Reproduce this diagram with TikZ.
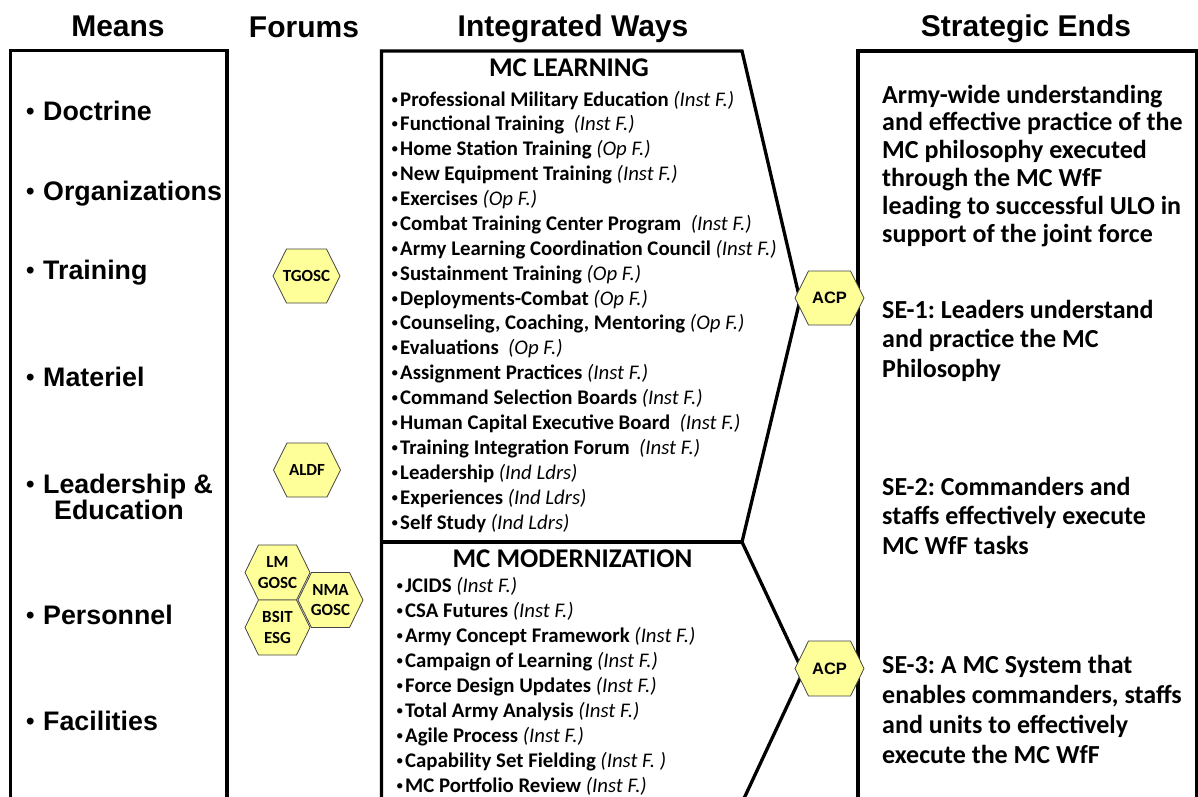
\documentclass[tikz,border=0pt]{standalone}
\usepackage{fontspec}
\setmainfont{Carlito}
\newfontfamily\arialf{Liberation Sans}
\definecolor{hexyellow}{RGB}{255,255,153}
\definecolor{hexline}{RGB}{70,70,70}
\frenchspacing
\newcommand\bul{\makebox[9pt][l]{\raisebox{2pt}{\fontsize{15}{15}\selectfont\textbullet}}}
\newcommand\mbul{\makebox[17pt][l]{\raisebox{0.9pt}{\fontsize{24}{24}\selectfont\textbullet}}}
\newcommand\wb[2]{\bul\textbf{#1} \textit{#2}}
\newcommand\hexa[7][hexlbl]{%
  \path[hexshape] ({#3-#5/2},#4) -- ({#3-#5/2+13.5},{#4-#6/2}) -- ({#3+#5/2-13.5},{#4-#6/2}) -- ({#3+#5/2},#4) -- ({#3+#5/2-13.5},{#4+#6/2}) -- ({#3-#5/2+13.5},{#4+#6/2}) -- cycle;
  \node[#1] (#2) at (#3,#4) {#7};}
\tikzset{
  box/.style={line width=3.3pt, line join=miter},
  hdr/.style={font=\arialf\bfseries\fontsize{30}{36}\selectfont, anchor=base, inner sep=0pt},
  mean/.style={font=\arialf\bfseries\fontsize{26.8}{30}\selectfont, anchor=base west, inner sep=0pt},
  way/.style={font=\fontsize{20.8}{25}\selectfont, anchor=base west, inner sep=0pt},
  wayhdr/.style={font=\bfseries\fontsize{27}{30}\selectfont, anchor=base, inner sep=0pt},
  endtxt/.style={font=\bfseries\fontsize{26}{30}\selectfont, anchor=base west, inner sep=0pt},
  hexshape/.style={fill=hexyellow, draw=hexline, line width=0.8pt, line join=miter},
  hexlbl/.style={font=\bfseries\fontsize{17}{20.5}\selectfont, align=center, inner sep=0pt},
  acplbl/.style={font=\arialf\bfseries\fontsize{16.5}{20}\selectfont, inner sep=0pt},
}
\begin{document}
\begin{tikzpicture}[x=1pt,y=-1pt]
\useasboundingbox (0,0) rectangle (1198,796);
\clip (0,0) rectangle (1198,796);
\fill[white] (0,0) rectangle (1198,796);

% headers
\node[hdr] (hMeans) at (118,36) {Means};
\node[hdr] (hForums) at (304,37) {Forums};
\node[hdr] (hWays) at (573,36) {Integrated Ways};
\node[hdr] (hEnds) at (1026,36) {Strategic Ends};

% boxes
\draw[box] (10.5,830) -- (10.5,50.5) -- (227,50.5) -- (227,830);
\draw[box] (381.5,830) -- (381.5,51) -- (742,51) -- (800,300) -- (742,542) -- (803,672) -- (733,822);
\draw[box] (381.5,542) -- (742,542);
\draw[box] (858,830) -- (858,51) -- (1197,51) -- (1197,830);

% means
\node[mean] (m1) at (26,120) {\mbul Doctrine};
\node[mean] (m2) at (26,200) {\mbul Organizations};
\node[mean] (m3) at (26,279) {\mbul Training};
\node[mean] (m4) at (26,386) {\mbul Materiel};
\node[mean] (m5) at (26,493) {\mbul Leadership \&};
\node[mean] (m5b) at (54,519) {Education};
\node[mean] (m6) at (26,624) {\mbul Personnel};
\node[mean] (m7) at (26,730) {\mbul Facilities};

% ways - learning
\node[wayhdr] (lh) at (569,76) {MC LEARNING};
\node[way] (l1) at (391,106) {\wb{Professional Military Education}{(Inst F.)}};
\node[way] (l2) at (391,130.9) {\wb{Functional Training}{\ (Inst F.)}};
\node[way] (l3) at (391,155.8) {\wb{Home Station Training}{(Op F.)}};
\node[way] (l4) at (391,180.6) {\wb{New Equipment Training}{(Inst F.)}};
\node[way] (l5) at (391,205.5) {\wb{Exercises}{(Op F.)}};
\node[way] (l6) at (391,230.4) {\wb{Combat Training Center Program}{\ (Inst F.)}};
\node[way] (l7) at (391,255.3) {\wb{Army Learning Coordination Council}{(Inst F.)}};
\node[way] (l8) at (391,280.2) {\wb{Sustainment Training}{(Op F.)}};
\node[way] (l9) at (391,305) {\wb{Deployments-Combat}{(Op F.)}};
\node[way] (l10) at (391,329.9) {\wb{Counseling, Coaching, Mentoring}{(Op F.)}};
\node[way] (l11) at (391,354.8) {\wb{Evaluations}{\ (Op F.)}};
\node[way] (l12) at (391,379.7) {\wb{Assignment Practices}{(Inst F.)}};
\node[way] (l13) at (391,404.6) {\wb{Command Selection Boards}{(Inst F.)}};
\node[way] (l14) at (391,429.4) {\wb{Human Capital Executive Board}{\ (Inst F.)}};
\node[way] (l15) at (391,454.3) {\wb{Training Integration Forum}{\ (Inst F.)}};
\node[way] (l16) at (391,479.2) {\wb{Leadership}{(Ind Ldrs)}};
\node[way] (l17) at (391,504.1) {\wb{Experiences}{(Ind Ldrs)}};
\node[way] (l18) at (391,529) {\wb{Self Study}{(Ind Ldrs)}};

% ways - modernization
\node[wayhdr] (mh) at (572.5,567) {MC MODERNIZATION};
\node[way] (w1) at (396,592) {\wb{JCIDS}{(Inst F.)}};
\node[way] (w2) at (396,617) {\wb{CSA Futures}{(Inst F.)}};
\node[way] (w3) at (396,642) {\wb{Army Concept Framework}{(Inst F.)}};
\node[way] (w4) at (396,667) {\wb{Campaign of Learning}{(Inst F.)}};
\node[way] (w5) at (396,692) {\wb{Force Design Updates}{(Inst F.)}};
\node[way] (w6) at (396,717) {\wb{Total Army Analysis}{(Inst F.)}};
\node[way] (w7) at (396,742) {\wb{Agile Process}{(Inst F.)}};
\node[way] (w8) at (396,767) {\wb{Capability Set Fielding}{(Inst F. )}};
\node[way] (w9) at (396,792) {\wb{MC Portfolio Review}{(Inst F.)}};

% strategic ends
\node[endtxt] (e1) at (882,103) {Army-wide understanding};
\node[endtxt] (e2) at (882,130.8) {and effective practice of the};
\node[endtxt] (e3) at (882,158.6) {MC philosophy executed};
\node[endtxt] (e4) at (882,186.4) {through the MC WfF};
\node[endtxt] (e5) at (882,214.2) {leading to successful ULO in};
\node[endtxt] (e6) at (882,242) {support of the joint force};
\node[endtxt] (s1a) at (882,318) {SE-1: Leaders understand};
\node[endtxt] (s1b) at (882,347.5) {and practice the MC};
\node[endtxt] (s1c) at (882,377) {Philosophy};
\node[endtxt] (s2a) at (882,495) {SE-2: Commanders and};
\node[endtxt] (s2b) at (882,524.5) {staffs effectively execute};
\node[endtxt] (s2c) at (882,554) {MC WfF tasks};
\node[endtxt] (s3a) at (882,673) {SE-3: A MC System that};
\node[endtxt] (s3b) at (882,703) {enables commanders, staffs};
\node[endtxt] (s3c) at (882,733) {and units to effectively};
\node[endtxt] (s3d) at (882,763) {execute the MC WfF};

% forums hexagons
\hexa{tgosc}{306.5}{276}{67}{54}{TGOSC}
\hexa{aldf}{307}{470}{67}{54}{ALDF}
\hexa{lm}{277.5}{572.5}{65}{55}{LM\\GOSC}
\hexa{bsit}{277.5}{627.5}{65}{55}{BSIT\\ESG}
\hexa{nma}{330.5}{600}{65}{55}{NMA\\GOSC}
\hexa[acplbl]{acp1}{829.5}{298}{69}{54}{ACP}
\hexa[acplbl]{acp2}{829.5}{668.5}{69}{55}{ACP}
\end{tikzpicture}
\end{document}
